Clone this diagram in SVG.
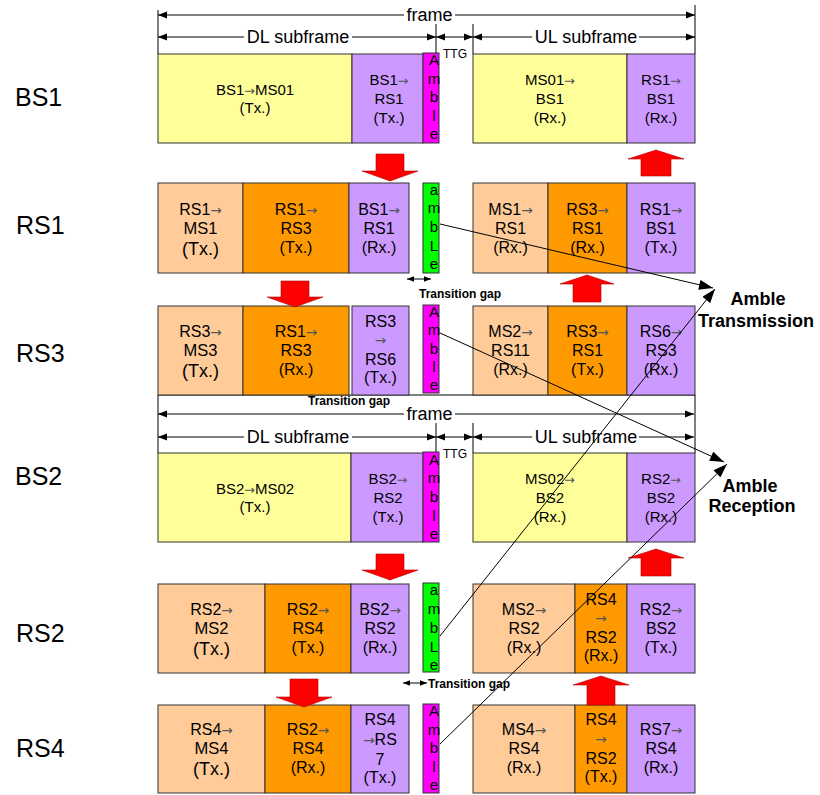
<svg xmlns="http://www.w3.org/2000/svg" width="820" height="795" viewBox="0 0 820 795">
<defs>
<marker id="dh" viewBox="0 0 10 8" refX="10" refY="4" markerWidth="9" markerHeight="8" markerUnits="userSpaceOnUse" orient="auto-start-reverse"><path d="M0,0 L10,4 L0,8 z" fill="#000"/></marker>
<marker id="ds" viewBox="0 0 10 8" refX="10" refY="4" markerWidth="7" markerHeight="6" markerUnits="userSpaceOnUse" orient="auto-start-reverse"><path d="M0,0 L10,4 L0,8 z" fill="#000"/></marker>
<marker id="ah" viewBox="0 0 14 10" refX="14" refY="5" markerWidth="15" markerHeight="10" markerUnits="userSpaceOnUse" orient="auto"><path d="M0,0 L14,5 L0,10 z" fill="#000"/></marker>
</defs>
<style>
text{font-family:"Liberation Sans",Arial,sans-serif;fill:#000}
.bx{stroke:#333;stroke-width:1}
.y{fill:#FFFF99}.p{fill:#CC99FF}.m{fill:#FF00FF}.g{fill:#00FF00}.pe{fill:#FFCC99}.o{fill:#FF9900}
.s15{font-size:15px;text-anchor:middle}
.s16{font-size:16px;text-anchor:middle}
.s17{font-size:16.5px}
.s19{font-size:18px}
.ar{fill:#555;font-family:"DejaVu Sans",sans-serif;font-size:0.85em}
.lab{font-size:25px}
.amb{font-size:15px;text-anchor:middle}
.dim{stroke:#000;stroke-width:1;fill:none}
.ra{fill:#FF0000;stroke:#B00000;stroke-width:0.6}
.tg{font-size:12px;font-weight:bold}
.big{font-size:18px;font-weight:bold}
.hd{font-size:18px;text-anchor:middle}
.ttg{font-size:12px;text-anchor:middle}
.cn{stroke:#000;stroke-width:1;fill:none}
</style>
<rect width="820" height="795" fill="#fff"/>

<!-- left labels -->
<g id="lbl-BS1"><text class="lab" x="15" y="106">BS1</text></g>
<g id="lbl-RS1"><text class="lab" x="16" y="234">RS1</text></g>
<g id="lbl-RS3"><text class="lab" x="16" y="362">RS3</text></g>
<g id="lbl-BS2"><text class="lab" x="15" y="485">BS2</text></g>
<g id="lbl-RS2"><text class="lab" x="16" y="642">RS2</text></g>
<g id="lbl-RS4"><text class="lab" x="16" y="757">RS4</text></g>

<!-- header 1 -->
<g id="header1">
<path class="dim" d="M158,10 V54 M695,5 V54 M436,24 V53 M473,24 V54"/>
<path class="dim" d="M158,15 H404" marker-start="url(#dh)"/>
<path class="dim" d="M455,15 H695" marker-end="url(#dh)"/>
<text class="hd" x="429.5" y="21">frame</text>
<path class="dim" d="M158,37 H244" marker-start="url(#dh)"/>
<path class="dim" d="M352,37 H436" marker-end="url(#dh)"/>
<text class="hd" x="298" y="43">DL subframe</text>
<path class="dim" d="M436,37 H473" marker-start="url(#dh)" marker-end="url(#dh)"/>
<path class="dim" d="M473,37 H532" marker-start="url(#dh)"/>
<path class="dim" d="M639,37 H695" marker-end="url(#dh)"/>
<text class="hd" x="586" y="43">UL subframe</text>
<text class="ttg" x="455" y="58">TTG</text>
</g>

<!-- header 2 -->
<g id="header2">
<path class="dim" d="M158,395 H695 M158,395 V453 M695,395 V453 M436,423 V452 M473,423 V453"/>
<path class="dim" d="M158,414 H404" marker-start="url(#dh)"/>
<path class="dim" d="M455,414 H694" marker-end="url(#dh)"/>
<text class="hd" x="429.5" y="420">frame</text>
<path class="dim" d="M158,437 H244" marker-start="url(#dh)"/>
<path class="dim" d="M352,437 H436" marker-end="url(#dh)"/>
<text class="hd" x="298" y="443">DL subframe</text>
<path class="dim" d="M436,437 H473" marker-start="url(#dh)" marker-end="url(#dh)"/>
<path class="dim" d="M473,437 H532" marker-start="url(#dh)"/>
<path class="dim" d="M639,437 H694" marker-end="url(#dh)"/>
<text class="hd" x="586" y="443">UL subframe</text>
<text class="ttg" x="455" y="458">TTG</text>
</g>

<!-- BS1 row -->
<g id="bs1-ms01"><rect class="bx y" x="158" y="54" width="194" height="89"/>
<text class="s15" x="255" y="95">BS1<tspan class="ar">→</tspan>MS01</text><text class="s15" x="255" y="113">(Tx.)</text></g>
<g id="bs1-rs1"><rect class="bx p" x="352" y="54" width="71" height="89"/>
<text class="s15" x="389" y="85">BS1<tspan class="ar">→</tspan></text><text class="s15" x="389" y="104">RS1</text><text class="s15" x="389" y="123">(Tx.)</text></g>
<g id="bs1-amble"><rect class="bx m" x="423" y="53" width="16" height="90"/>
<text class="amb"><tspan x="434" y="65">A</tspan><tspan x="434" y="84">m</tspan><tspan x="434" y="102">b</tspan><tspan x="434" y="121">l</tspan><tspan x="434" y="139">e</tspan></text></g>
<g id="ms01-bs1"><rect class="bx y" x="473" y="54" width="154" height="89"/>
<text class="s15" x="550" y="85">MS01<tspan class="ar">→</tspan></text><text class="s15" x="550" y="104">BS1</text><text class="s15" x="550" y="123">(Rx.)</text></g>
<g id="rs1-bs1-rx"><rect class="bx p" x="627" y="54" width="68" height="89"/>
<text class="s15" x="661" y="85">RS1<tspan class="ar">→</tspan></text><text class="s15" x="661" y="104">BS1</text><text class="s15" x="661" y="123">(Rx.)</text></g>

<!-- RS1 row -->
<g id="rs1-ms1"><rect class="bx pe" x="158" y="183" width="85" height="90"/>
<text class="s16" x="200.5" y="215">RS1<tspan class="ar">→</tspan></text><text class="s16 s17" x="200.5" y="234">MS1</text><text class="s16 s19" x="200.5" y="255">(Tx.)</text></g>
<g id="rs1-rs3"><rect class="bx o" x="243" y="183" width="106" height="90"/>
<text class="s16" x="296" y="215">RS1<tspan class="ar">→</tspan></text><text class="s16" x="296" y="234">RS3</text><text class="s16" x="296" y="253">(Tx.)</text></g>
<g id="bs1-rs1-rx"><rect class="bx p" x="349" y="183" width="60" height="90"/>
<text class="s16" x="379" y="215">BS1<tspan class="ar">→</tspan></text><text class="s16" x="379" y="234">RS1</text><text class="s16" x="379" y="253">(Rx.)</text></g>
<g id="rs1-amble"><rect class="bx g" x="423" y="183" width="16" height="90"/>
<text class="amb"><tspan x="434" y="195">a</tspan><tspan x="434" y="213">m</tspan><tspan x="434" y="232">b</tspan><tspan x="434" y="251">L</tspan><tspan x="434" y="269">e</tspan></text></g>
<g id="ms1-rs1"><rect class="bx pe" x="473" y="183" width="75" height="90"/>
<text class="s16" x="510.5" y="215">MS1<tspan class="ar">→</tspan></text><text class="s16" x="510.5" y="234">RS1</text><text class="s16" x="510.5" y="253">(Rx.)</text></g>
<g id="rs3-rs1-rx"><rect class="bx o" x="548" y="183" width="79" height="90"/>
<text class="s16" x="587.5" y="215">RS3<tspan class="ar">→</tspan></text><text class="s16" x="587.5" y="234">RS1</text><text class="s16" x="587.5" y="253">(Rx.)</text></g>
<g id="rs1-bs1-tx"><rect class="bx p" x="627" y="183" width="68" height="90"/>
<text class="s16" x="661" y="215">RS1<tspan class="ar">→</tspan></text><text class="s16" x="661" y="234">BS1</text><text class="s16" x="661" y="253">(Tx.)</text></g>

<!-- RS3 row -->
<g id="rs3-ms3"><rect class="bx pe" x="158" y="306" width="85" height="89"/>
<text class="s16" x="200.5" y="337">RS3<tspan class="ar">→</tspan></text><text class="s16 s17" x="200.5" y="356">MS3</text><text class="s16 s19" x="200.5" y="377">(Tx.)</text></g>
<g id="rs1-rs3-rx"><rect class="bx o" x="243" y="306" width="106" height="89"/>
<text class="s16" x="296" y="337">RS1<tspan class="ar">→</tspan></text><text class="s16" x="296" y="356">RS3</text><text class="s16" x="296" y="375">(Rx.)</text></g>
<g id="rs3-rs6"><rect class="bx p" x="352" y="306" width="57" height="89"/>
<text class="s16" x="380.5" y="327">RS3</text><text class="s16" x="380.5" y="345"><tspan class="ar">→</tspan></text><text class="s16" x="380.5" y="365">RS6</text><text class="s16" x="380.5" y="383">(Tx.)</text></g>
<g id="rs3-amble"><rect class="bx m" x="423" y="305" width="16" height="88"/>
<text class="amb"><tspan x="434" y="317">A</tspan><tspan x="434" y="335">m</tspan><tspan x="434" y="354">b</tspan><tspan x="434" y="372">l</tspan><tspan x="434" y="390">e</tspan></text></g>
<g id="ms2-rs11"><rect class="bx pe" x="473" y="306" width="75" height="89"/>
<text class="s16" x="510.5" y="337">MS2<tspan class="ar">→</tspan></text><text class="s16" x="510.5" y="356">RS11</text><text class="s16" x="510.5" y="375">(Rx.)</text></g>
<g id="rs3-rs1-tx"><rect class="bx o" x="548" y="306" width="79" height="89"/>
<text class="s16" x="587.5" y="337">RS3<tspan class="ar">→</tspan></text><text class="s16" x="587.5" y="356">RS1</text><text class="s16" x="587.5" y="375">(Tx.)</text></g>
<g id="rs6-rs3"><rect class="bx p" x="627" y="306" width="68" height="89"/>
<text class="s16" x="661" y="337">RS6<tspan class="ar">→</tspan></text><text class="s16" x="661" y="356">RS3</text><text class="s16" x="661" y="375">(Rx.)</text></g>

<!-- BS2 row -->
<g id="bs2-ms02"><rect class="bx y" x="158" y="453" width="193" height="89"/>
<text class="s15" x="255" y="494">BS2<tspan class="ar">→</tspan>MS02</text><text class="s15" x="255" y="512">(Tx.)</text></g>
<g id="bs2-rs2"><rect class="bx p" x="351" y="453" width="72" height="89"/>
<text class="s15" x="388" y="484">BS2<tspan class="ar">→</tspan></text><text class="s15" x="388" y="503">RS2</text><text class="s15" x="388" y="522">(Tx.)</text></g>
<g id="bs2-amble"><rect class="bx m" x="423" y="452" width="16" height="90"/>
<text class="amb"><tspan x="434" y="465">A</tspan><tspan x="434" y="483">m</tspan><tspan x="434" y="502">b</tspan><tspan x="434" y="521">l</tspan><tspan x="434" y="539">e</tspan></text></g>
<g id="ms02-bs2"><rect class="bx y" x="473" y="453" width="154" height="89"/>
<text class="s15" x="550" y="484">MS02<tspan class="ar">→</tspan></text><text class="s15" x="550" y="503">BS2</text><text class="s15" x="550" y="522">(Rx.)</text></g>
<g id="rs2-bs2-rx"><rect class="bx p" x="627" y="453" width="68" height="89"/>
<text class="s15" x="661" y="484">RS2<tspan class="ar">→</tspan></text><text class="s15" x="661" y="503">BS2</text><text class="s15" x="661" y="522">(Rx.)</text></g>

<!-- RS2 row -->
<g id="rs2-ms2"><rect class="bx pe" x="158" y="584" width="107" height="89"/>
<text class="s16" x="211.5" y="615">RS2<tspan class="ar">→</tspan></text><text class="s16 s17" x="211.5" y="634">MS2</text><text class="s16 s19" x="211.5" y="655">(Tx.)</text></g>
<g id="rs2-rs4"><rect class="bx o" x="265" y="584" width="86" height="89"/>
<text class="s16" x="308" y="615">RS2<tspan class="ar">→</tspan></text><text class="s16" x="308" y="634">RS4</text><text class="s16" x="308" y="653">(Tx.)</text></g>
<g id="bs2-rs2-rx"><rect class="bx p" x="351" y="584" width="58" height="89"/>
<text class="s16" x="380" y="615">BS2<tspan class="ar">→</tspan></text><text class="s16" x="380" y="634">RS2</text><text class="s16" x="380" y="653">(Rx.)</text></g>
<g id="rs2-amble"><rect class="bx g" x="423" y="583" width="16" height="89"/>
<text class="amb"><tspan x="434" y="595">a</tspan><tspan x="434" y="614">m</tspan><tspan x="434" y="633">b</tspan><tspan x="434" y="652">L</tspan><tspan x="434" y="670">e</tspan></text></g>
<g id="ms2-rs2"><rect class="bx pe" x="473" y="584" width="102" height="89"/>
<text class="s16" x="524" y="615">MS2<tspan class="ar">→</tspan></text><text class="s16" x="524" y="634">RS2</text><text class="s16" x="524" y="653">(Rx.)</text></g>
<g id="rs4-rs2-rx"><rect class="bx o" x="575" y="584" width="52" height="89"/>
<text class="s16" x="601" y="605">RS4</text><text class="s16" x="601" y="623"><tspan class="ar">→</tspan></text><text class="s16" x="601" y="643">RS2</text><text class="s16" x="601" y="661">(Rx.)</text></g>
<g id="rs2-bs2-tx"><rect class="bx p" x="627" y="584" width="68" height="89"/>
<text class="s16" x="661" y="615">RS2<tspan class="ar">→</tspan></text><text class="s16" x="661" y="634">BS2</text><text class="s16" x="661" y="653">(Tx.)</text></g>

<!-- RS4 row -->
<g id="rs4-ms4"><rect class="bx pe" x="158" y="705" width="107" height="88"/>
<text class="s16" x="211.5" y="735">RS4<tspan class="ar">→</tspan></text><text class="s16 s17" x="211.5" y="754">MS4</text><text class="s16 s19" x="211.5" y="775">(Tx.)</text></g>
<g id="rs2-rs4-rx"><rect class="bx o" x="265" y="705" width="86" height="88"/>
<text class="s16" x="308" y="735">RS2<tspan class="ar">→</tspan></text><text class="s16" x="308" y="754">RS4</text><text class="s16" x="308" y="773">(Rx.)</text></g>
<g id="rs4-rs7"><rect class="bx p" x="351" y="705" width="58" height="88"/>
<text class="s16" x="380" y="725">RS4</text><text class="s16" x="380" y="745"><tspan class="ar">→</tspan>RS</text><text class="s16" x="380" y="765">7</text><text class="s16" x="380" y="783">(Tx.)</text></g>
<g id="rs4-amble"><rect class="bx m" x="423" y="704" width="16" height="89"/>
<text class="amb"><tspan x="434" y="716">A</tspan><tspan x="434" y="735">m</tspan><tspan x="434" y="753">b</tspan><tspan x="434" y="772">l</tspan><tspan x="434" y="790">e</tspan></text></g>
<g id="ms4-rs4"><rect class="bx pe" x="473" y="705" width="102" height="88"/>
<text class="s16" x="524" y="735">MS4<tspan class="ar">→</tspan></text><text class="s16" x="524" y="754">RS4</text><text class="s16" x="524" y="773">(Rx.)</text></g>
<g id="rs4-rs2-tx"><rect class="bx o" x="575" y="705" width="52" height="88"/>
<text class="s16" x="601" y="725">RS4</text><text class="s16" x="601" y="744"><tspan class="ar">→</tspan></text><text class="s16" x="601" y="764">RS2</text><text class="s16" x="601" y="782">(Tx.)</text></g>
<g id="rs7-rs4"><rect class="bx p" x="627" y="705" width="68" height="88"/>
<text class="s16" x="661" y="735">RS7<tspan class="ar">→</tspan></text><text class="s16" x="661" y="754">RS4</text><text class="s16" x="661" y="773">(Rx.)</text></g>

<!-- red block arrows -->
<g id="red-arrows">
<polygon class="ra" points="376,154 404,154 404,171 418,171 390,181 362,171 376,171"/>
<polygon class="ra" points="281,281 309,281 309,297 323,297 295,307 267,297 281,297"/>
<polygon class="ra" points="376,554 404,554 404,570 418,570 390,580 362,570 376,570"/>
<polygon class="ra" points="290,679 318,679 318,697 332,697 304,707 276,697 290,697"/>
<polygon class="ra" points="656,150 684,159 671,159 671,176 641,176 641,159 628,159"/>
<polygon class="ra" points="587,275 614,284 601,284 601,302 573,302 573,284 560,284"/>
<polygon class="ra" points="656,549 684,558 671,558 671,576 641,576 641,558 628,558"/>
<polygon class="ra" points="601,676 629,685 615,685 615,705 587,705 587,685 573,685"/>
</g>

<!-- transition gaps -->
<g id="transition-gaps">
<path class="dim" d="M407,279 H431" marker-start="url(#ds)" marker-end="url(#ds)"/>
<text class="tg" x="419" y="298">Transition gap</text>
<text class="tg" x="308" y="405">Transition gap</text>
<path class="dim" d="M403,683 H427" marker-start="url(#ds)" marker-end="url(#ds)"/>
<text class="tg" x="428" y="688">Transition gap</text>
</g>

<!-- connectors -->
<g id="connectors">
<line class="cn" x1="440" y1="224" x2="713" y2="288" marker-end="url(#ah)"/>
<line class="cn" x1="440" y1="636" x2="715" y2="289" marker-end="url(#ah)"/>
<line class="cn" x1="440" y1="333" x2="724" y2="462" marker-end="url(#ah)"/>
<line class="cn" x1="440" y1="744" x2="727" y2="464" marker-end="url(#ah)"/>
</g>

<g id="amble-transmission"><text class="big" x="758" y="305" text-anchor="middle">Amble</text><text class="big" x="698" y="327">Transmission</text></g>
<g id="amble-reception"><text class="big" x="750" y="492" text-anchor="middle">Amble</text><text class="big" x="752" y="512" text-anchor="middle">Reception</text></g>
</svg>
